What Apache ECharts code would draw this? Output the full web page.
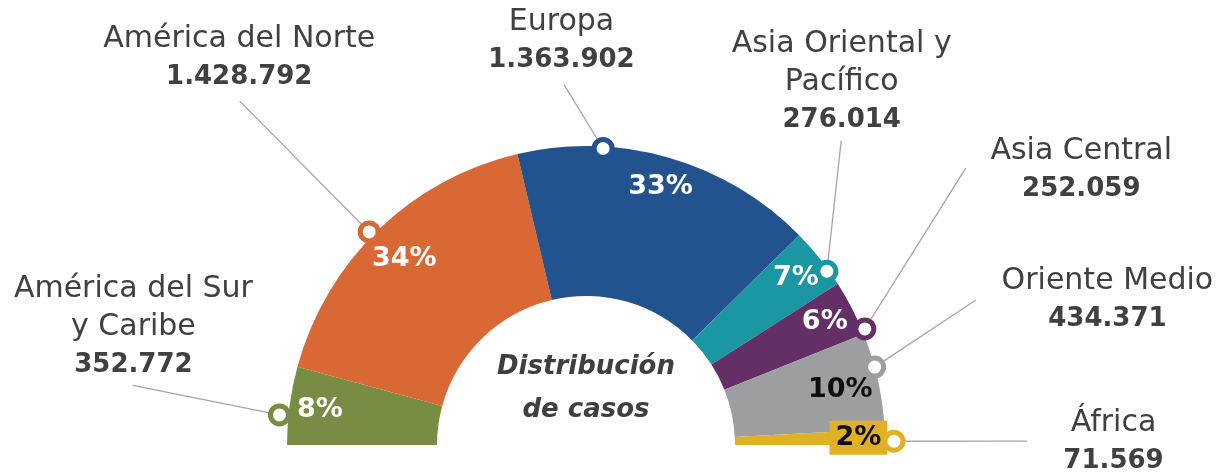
<!DOCTYPE html>
<html><head><meta charset="utf-8">
<script src="https://cdn.jsdelivr.net/npm/echarts@6/dist/echarts.min.js"></script>
<style>html,body{margin:0;padding:0;background:#fff}#c{width:1225px;height:475px}</style>
</head><body><div id="c"></div>
<script>
// ---- data ----
const regions = ['América del Sur y Caribe','América del Norte','Europa','Asia Oriental y Pacífico','Asia Central','Oriente Medio','África'];
const cases = [352772, 1428792, 1363902, 276014, 252059, 434371, 71569];
const labelLines = [['América del Sur','y Caribe'],['América del Norte'],['Europa'],['Asia Oriental y','Pacífico'],['Asia Central'],['Oriente Medio'],['África']];
const centerTitle = 'Distribución\nde casos';

// ---- styles / layout ----
const colors = ['#798C43','#D86935','#22538E','#1B96A3','#632F66','#9C9E9F','#E0B122'];
const pctTextColors = ['#fff','#fff','#fff','#fff','#fff','#0d0d0d','#0d0d0d'];
// marker [radius px, angle deg], leader end [radius px, angle deg], label centre offset from leader end
const markerPos = [[308,174.4],[304,135.5],[297,86.7],[297,35.8],[302,22.6],[299,15.1],[308,0.7]];
const leaderEnd = [[457,172.5],[488,135.2],[361,93.5],[397,50.0],[470,36.1],[416,20.4],[441,0.5]];
const labelOffset = [[1,-58],[0,-42],[-2,-43],[1,-58],[116,3],[132,1],[87,1.5]];
const pctOffset = [[0,0],[5,7],[0,0],[0,0],[0,0],[-8,3],[4,0]];

const FONT = '"DejaVu Sans", sans-serif';
const CENTER = [586, 445];
const POLAR_R = 520;
const total = cases.reduce((a,b)=>a+b,0);
const fmt = n => String(n).replace(/\B(?=(\d{3})+(?!\d))/g, '.');

const chart = echarts.init(document.getElementById('c'));

const pieData = regions.map((n,i)=>({name:n, value:cases[i], itemStyle:{color:colors[i]}}));
const pctData = regions.map((n,i)=>{
  const lbl = {color: pctTextColors[i], offset: pctOffset[i]};
  if (i === 6) { lbl.backgroundColor = colors[i]; lbl.padding = [4,6,3,6]; }
  return {name:n, value:cases[i], label: lbl};
});

const leaderSeries = regions.map((n,i)=>({
  type:'line', coordinateSystem:'polar', z:5, clip:false, silent:true, animation:false,
  lineStyle:{color:'#a6a6a6', width:1.3},
  data:[
    {value: markerPos[i], symbol:'circle', symbolSize:18,
     itemStyle:{color:'#fff', borderColor:colors[i], borderWidth:5}},
    {value: leaderEnd[i], symbol:'circle', symbolSize:1,
     itemStyle:{color:'rgba(0,0,0,0)', borderWidth:0},
     label:{show:true, position:labelOffset[i], align:'center', verticalAlign:'middle',
       formatter: () => labelLines[i].map(t=>'{n|'+t+'}').join('\n') + '\n{v|' + fmt(cases[i]) + '}',
       rich:{
         n:{fontFamily:FONT, fontSize:30, color:'#404040', lineHeight:38, align:'center'},
         v:{fontFamily:FONT, fontSize:26, fontWeight:'bold', color:'#404040', lineHeight:38, align:'center'}
       }}}
  ]
}));

chart.setOption({
  animation:false,
  polar:{center:CENTER, radius:POLAR_R},
  angleAxis:{type:'value', min:0, max:360, startAngle:0, clockwise:false, show:false},
  radiusAxis:{type:'value', min:0, max:POLAR_R, show:false},
  graphic:[{type:'text', x:CENTER[0], y:389, silent:true,
    style:{text:centerTitle, align:'center', verticalAlign:'middle',
      font:'italic bold 26px ' + FONT, fill:'#3f3f3f', lineHeight:43}}],
  series:[
    {type:'pie', center:CENTER, radius:[149,299], startAngle:180, endAngle:0, clockwise:true,
     silent:true, label:{show:false}, labelLine:{show:false}, data:pieData},
    {type:'pie', center:CENTER, radius:[232,299], startAngle:180, endAngle:0, clockwise:true,
     silent:true, avoidLabelOverlap:false, itemStyle:{color:'rgba(0,0,0,0)'},
     label:{show:true, position:'inside', fontFamily:FONT, fontSize:27, fontWeight:'bold',
       formatter: p => Math.round(p.value/total*100) + '%'},
     labelLine:{show:false}, data:pctData},
    ...leaderSeries
  ]
});
</script></body></html>
